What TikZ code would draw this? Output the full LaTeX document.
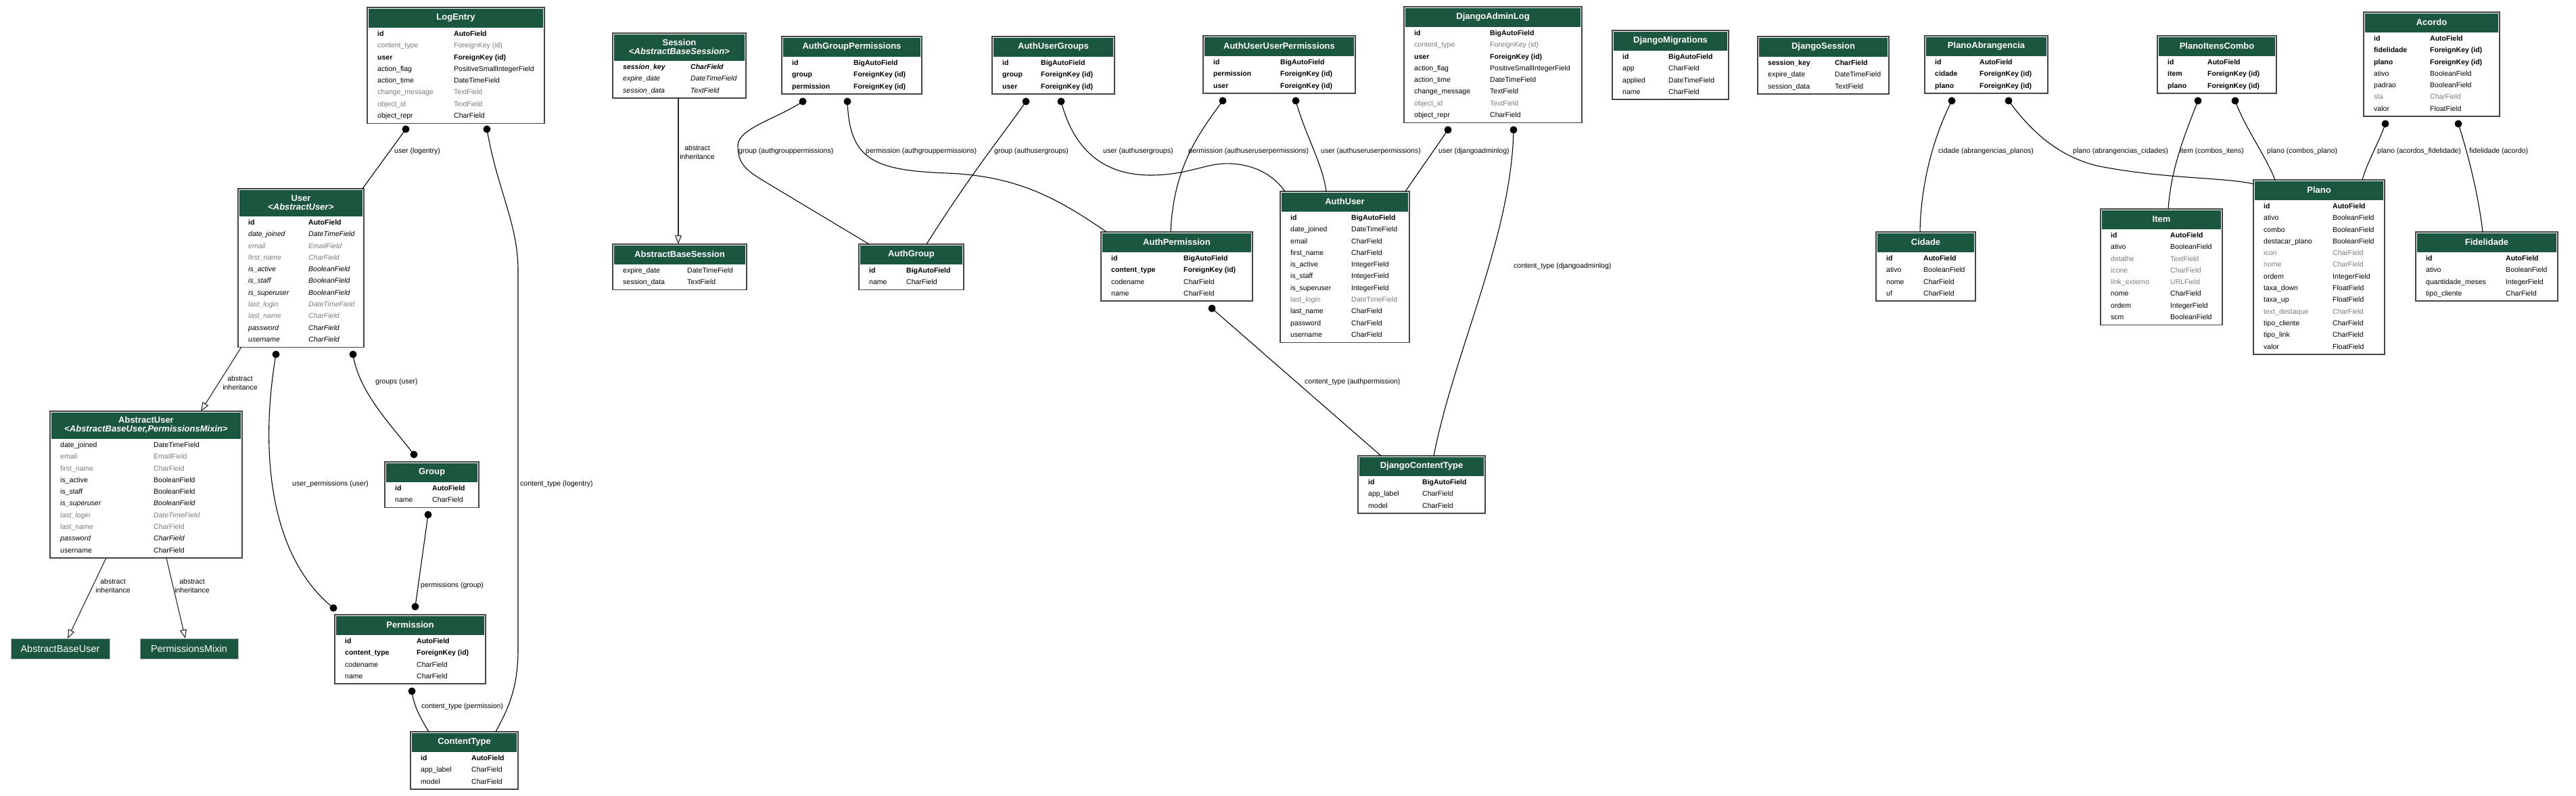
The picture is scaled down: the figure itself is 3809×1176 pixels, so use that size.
\documentclass[tikz,border=0pt]{standalone}
\usepackage{fontspec}
\setmainfont{Liberation Sans}
\usetikzlibrary{arrows.meta}
\definecolor{hdrgreen}{HTML}{1B563F}
\definecolor{fgray}{HTML}{7B7B7B}
\definecolor{bordergray}{HTML}{454545}
\newcommand\fmtn[1]{#1}
\newcommand\fmtb[1]{\bfseries #1}
\newcommand\fmtg[1]{\color{fgray}#1}
\newcommand\fmti[1]{\itshape #1}
\newcommand\fmtgi[1]{\color{fgray}\itshape #1}
\newcommand\fmtbi[1]{\bfseries\itshape #1}
\tikzset{
  tblbox/.style={rectangle, draw=bordergray, line width=1.6pt, fill=white, inner sep=0pt, outer sep=0pt},
  hdrtxt/.style={text=white, font=\fontsize{13}{13.5}\selectfont\bfseries, inner sep=0pt, align=center},
  fld/.style={inner sep=0pt, anchor=base west, font=\fontsize{10.5}{12}\selectfont},
  rel/.style={line width=1.1pt, draw=black},
  inh/.style={line width=1.1pt, draw=black!85, -{Triangle[open,length=13pt,width=10pt]}},
  enddot/.style={circle, fill=black, inner sep=0pt, minimum size=11pt},
  elab/.style={inner sep=0pt, anchor=west, font=\fontsize{10.5}{12}\selectfont},
  ilab/.style={inner sep=0pt, align=center, font=\fontsize{10.5}{13}\selectfont},
  basebox/.style={rectangle, fill=hdrgreen, draw=black!30, line width=0.6pt, inner sep=0pt, outer sep=0pt, text=white, font=\fontsize{14.5}{15}\selectfont, minimum height=30pt, anchor=north west},
}
% name, x, y, width, header height, rows, type offset, header, rows
\newcommand\dbtable[9]{%
  \pgfmathsetmacro\tblH{#5+#6*17.3+3}%
  \node[tblbox, minimum width=#4pt, minimum height=\tblH pt, anchor=north west] (#1) at (#2,#3) {};
  \fill[hdrgreen] ([shift={(1.6,1.6)}]#1.north west) rectangle ([shift={(-1.6,#5)}]#1.north east);
  \node[hdrtxt] (#1-hdr) at ([shift={(0,#5/2)}]#1.north) {#8};
  \foreach \st/\fname/\ftype [count=\k from 0] in {#9} {
    \pgfmathsetmacro\rowy{#5+8.65+\k*17.3+3.8}
    \node[fld] (#1-n\k) at ([shift={(15,\rowy)}]#1.north west) {\csname fmt\st\endcsname{\fname}};
    \node[fld] (#1-t\k) at ([shift={(#7,\rowy)}]#1.north west) {\csname fmt\st\endcsname{\ftype}};
  }
}
\begin{document}
\begin{tikzpicture}[x=1pt,y=-1pt]
\useasboundingbox (0,0) rectangle (3809,1176);
\fill[white] (0,0) rectangle (3809,1176);

% ---------------- tables ----------------
\dbtable{LogEntry}{543}{11}{262}{30}{8}{128}{LogEntry}{b/id/AutoField, g/content\_type/ForeignKey (id), b/user/ForeignKey (id), n/action\_flag/PositiveSmallIntegerField, n/action\_time/DateTimeField, g/change\_message/TextField, g/object\_id/TextField, n/object\_repr/CharField}
\dbtable{User}{352}{279}{186}{41}{11}{104}{User\\<\textit{AbstractUser}>}{b/id/AutoField, i/date\_joined/DateTimeField, gi/email/EmailField, gi/first\_name/CharField, i/is\_active/BooleanField, i/is\_staff/BooleanField, i/is\_superuser/BooleanField, gi/last\_login/DateTimeField, gi/last\_name/CharField, i/password/CharField, i/username/CharField}
\dbtable{AbstractUser}{74}{608}{284}{41}{10}{153}{AbstractUser\\<\textit{AbstractBaseUser,PermissionsMixin}>}{n/date\_joined/DateTimeField, g/email/EmailField, g/first\_name/CharField, n/is\_active/BooleanField, n/is\_staff/BooleanField, i/is\_superuser/BooleanField, gi/last\_login/DateTimeField, g/last\_name/CharField, i/password/CharField, n/username/CharField}
\dbtable{Group}{569}{683}{139}{30}{2}{70}{Group}{b/id/AutoField, n/name/CharField}
\dbtable{Permission}{495}{909}{223}{30}{4}{121}{Permission}{b/id/AutoField, b/content\_type/ForeignKey (id), n/codename/CharField, n/name/CharField}
\dbtable{ContentType}{607}{1082}{159}{30}{3}{90}{ContentType}{b/id/AutoField, n/app\_label/CharField, n/model/CharField}
\dbtable{Session}{906}{49}{197}{41}{3}{115}{Session\\<\textit{AbstractBaseSession}>}{bi/session\_key/CharField, i/expire\_date/DateTimeField, i/session\_data/TextField}
\dbtable{AbstractBaseSession}{906}{361}{198}{30}{2}{110}{AbstractBaseSession}{n/expire\_date/DateTimeField, n/session\_data/TextField}
\dbtable{AuthGroupPermissions}{1156}{54}{207}{30}{3}{106}{AuthGroupPermissions}{b/id/BigAutoField, b/group/ForeignKey (id), b/permission/ForeignKey (id)}
\dbtable{AuthUserGroups}{1467}{54}{181}{30}{3}{72}{AuthUserGroups}{b/id/BigAutoField, b/group/ForeignKey (id), b/user/ForeignKey (id)}
\dbtable{AuthUserUserPermissions}{1779}{53}{225}{30}{3}{114}{AuthUserUserPermissions}{b/id/BigAutoField, b/permission/ForeignKey (id), b/user/ForeignKey (id)}
\dbtable{DjangoAdminLog}{2076}{10}{263}{30}{8}{127}{DjangoAdminLog}{b/id/BigAutoField, g/content\_type/ForeignKey (id), b/user/ForeignKey (id), n/action\_flag/PositiveSmallIntegerField, n/action\_time/DateTimeField, n/change\_message/TextField, g/object\_id/TextField, n/object\_repr/CharField}
\dbtable{DjangoMigrations}{2384}{45}{172}{30}{4}{83}{DjangoMigrations}{b/id/BigAutoField, n/app/CharField, n/applied/DateTimeField, n/name/CharField}
\dbtable{DjangoSession}{2599}{54}{194}{30}{3}{114}{DjangoSession}{b/session\_key/CharField, n/expire\_date/DateTimeField, n/session\_data/TextField}
\dbtable{AuthGroup}{1270}{361}{155}{30}{2}{70}{AuthGroup}{b/id/BigAutoField, n/name/CharField}
\dbtable{AuthPermission}{1628}{343}{224}{30}{4}{122}{AuthPermission}{b/id/BigAutoField, b/content\_type/ForeignKey (id), n/codename/CharField, n/name/CharField}
\dbtable{AuthUser}{1893}{283}{191}{30}{11}{105}{AuthUser}{b/id/BigAutoField, n/date\_joined/DateTimeField, n/email/CharField, n/first\_name/CharField, n/is\_active/IntegerField, n/is\_staff/IntegerField, n/is\_superuser/IntegerField, g/last\_login/DateTimeField, n/last\_name/CharField, n/password/CharField, n/username/CharField}
\dbtable{DjangoContentType}{2008}{674}{188}{30}{3}{95}{DjangoContentType}{b/id/BigAutoField, n/app\_label/CharField, n/model/CharField}
\dbtable{PlanoAbrangencia}{2846}{53}{182}{30}{3}{81}{PlanoAbrangencia}{b/id/AutoField, b/cidade/ForeignKey (id), b/plano/ForeignKey (id)}
\dbtable{PlanoItensCombo}{3190}{53}{176}{30}{3}{74}{PlanoItensCombo}{b/id/AutoField, b/item/ForeignKey (id), b/plano/ForeignKey (id)}
\dbtable{Acordo}{3495}{18}{201}{30}{7}{98}{Acordo}{b/id/AutoField, b/fidelidade/ForeignKey (id), b/plano/ForeignKey (id), n/ativo/BooleanField, n/padrao/BooleanField, g/sla/CharField, n/valor/FloatField}
\dbtable{Cidade}{2774}{343}{147}{30}{4}{70}{Cidade}{b/id/AutoField, n/ativo/BooleanField, n/nome/CharField, n/uf/CharField}
\dbtable{Item}{3106}{309}{180}{30}{8}{103}{Item}{b/id/AutoField, n/ativo/BooleanField, g/detalhe/TextField, g/icone/CharField, g/link\_externo/URLField, n/nome/CharField, n/ordem/IntegerField, n/scm/BooleanField}
\dbtable{Plano}{3332}{266}{194}{30}{13}{117}{Plano}{b/id/AutoField, n/ativo/BooleanField, n/combo/BooleanField, n/destacar\_plano/BooleanField, g/icon/CharField, g/nome/CharField, n/ordem/IntegerField, n/taxa\_down/FloatField, n/taxa\_up/FloatField, g/text\_destaque/CharField, n/tipo\_cliente/CharField, n/tipo\_link/CharField, n/valor/FloatField}
\dbtable{Fidelidade}{3572}{343}{210}{30}{4}{133}{Fidelidade}{b/id/AutoField, n/ativo/BooleanField, n/quantidade\_meses/IntegerField, n/tipo\_cliente/CharField}

\node[basebox, minimum width=146pt] (AbstractBaseUser) at (16,944) {AbstractBaseUser};
\node[basebox, minimum width=145pt] (PermissionsMixin) at (207,944) {PermissionsMixin};

% ---------------- inheritance ----------------
\draw[inh] ([shift={(5,234)}]User.north west) -- ([shift={(223,0)}]AbstractUser.north west);
\node[ilab] (l7) at (355,566) {abstract\\inheritance};
\draw[inh] ([shift={(83,217)}]AbstractUser.north west) -- ([shift={(84,0)}]AbstractBaseUser.north west);
\node[ilab] (l8) at (167,866) {abstract\\inheritance};
\draw[inh] ([shift={(172,217)}]AbstractUser.north west) -- ([shift={(67,0)}]PermissionsMixin.north west);
\node[ilab] (l9) at (284,866) {abstract\\inheritance};
\draw[inh] ([shift={(97,96)}]Session.north west) -- ([shift={(97,0)}]AbstractBaseSession.north west);
\node[ilab] (l10) at (1031,225) {abstract\\inheritance};

% ---------------- relations (left) ----------------
\node[enddot] (d1) at (600,191) {};
\draw[rel] (d1.center) -- ([shift={(184,0)}]User.north west);
\node[elab] (l1) at (583,224) {user (logentry)};

\node[enddot] (d2) at (720,191) {};
\draw[rel] (d2.center) .. controls (735,280) and (766,330) .. (766,400) -- (766,960) .. controls (766,1020) and (750,1050) .. ([shift={(126,0)}]ContentType.north west);
\node[elab] (l2) at (769,716) {content\_type (logentry)};

\node[enddot] (d3a) at (522,524) {};
\node[enddot] (d3b) at (612,672) {};
\draw[rel] (d3a.center) .. controls (530,580) and (580,630) .. (d3b.center);
\node[elab] (l3) at (555,565) {groups (user)};

\node[enddot] (d4a) at (408,524) {};
\node[enddot] (d4b) at (493,899) {};
\draw[rel] (d4a.center) .. controls (385,660) and (395,820) .. (d4b.center);
\node[elab] (l4) at (432,716) {user\_permissions (user)};

\node[enddot] (d5a) at (633,761) {};
\node[enddot] (d5b) at (614,897) {};
\draw[rel] (d5a.center) -- (d5b.center);
\node[elab] (l5) at (622,866) {permissions (group)};

\node[enddot] (d6) at (609,1022) {};
\draw[rel] (d6.center) .. controls (612,1045) and (622,1062) .. ([shift={(27,0)}]ContentType.north west);
\node[elab] (l6) at (623,1045) {content\_type (permission)};

% ---------------- relations (middle) ----------------
\node[enddot] (d11) at (1187,150) {};
\draw[rel] (d11.center) .. controls (1150,175) and (1091,190) .. (1091,215) .. controls (1091,240) and (1100,250) .. (1130,268) -- ([shift={(15,0)}]AuthGroup.north west);
\node[elab] (l11) at (1092,224) {group (authgrouppermissions)};

\node[enddot] (d12) at (1253,150) {};
\draw[rel] (d12.center) .. controls (1256,235) and (1290,252) .. (1400,256) .. controls (1500,260) and (1560,290) .. ([shift={(8,0)}]AuthPermission.north west);
\node[elab] (l12) at (1280,224) {permission (authgrouppermissions)};

\node[enddot] (d13) at (1517,150) {};
\draw[rel] (d13.center) .. controls (1490,190) and (1440,250) .. ([shift={(100,0)}]AuthGroup.north west);
\node[elab] (l13) at (1470,224) {group (authusergroups)};

\node[enddot] (d14) at (1569,150) {};
\draw[rel] (d14.center) .. controls (1590,230) and (1640,260) .. (1705,259) .. controls (1760,258) and (1785,240) .. (1820,242) .. controls (1860,244) and (1885,262) .. ([shift={(7,0)}]AuthUser.north west);
\node[elab] (l14) at (1631,224) {user (authusergroups)};

\node[enddot] (d15) at (1808,149) {};
\draw[rel] (d15.center) .. controls (1770,200) and (1735,250) .. ([shift={(103,0)}]AuthPermission.north west);
\node[elab] (l15) at (1757,224) {permission (authuseruserpermissions)};

\node[enddot] (d16) at (1916,149) {};
\draw[rel] (d16.center) .. controls (1930,200) and (1955,240) .. ([shift={(68,0)}]AuthUser.north west);
\node[elab] (l16) at (1953,224) {user (authuseruserpermissions)};

\node[enddot] (d17) at (2141,192) {};
\draw[rel] (d17.center) -- ([shift={(185,0)}]AuthUser.north west);
\node[elab] (l17) at (2127,224) {user (djangoadminlog)};

\node[enddot] (d18) at (2238,192) {};
\draw[rel] (d18.center) .. controls (2235,350) and (2150,520) .. ([shift={(112,0)}]DjangoContentType.north west);
\node[elab] (l18) at (2238,394) {content\_type (djangoadminlog)};

\node[enddot] (d19) at (1792,456) {};
\draw[rel] (d19.center) -- ([shift={(34,0)}]DjangoContentType.north west);
\node[elab] (l19) at (1929,565) {content\_type (authpermission)};

% ---------------- relations (right) ----------------
\node[enddot] (d20) at (2886,149) {};
\draw[rel] (d20.center) .. controls (2860,200) and (2840,270) .. ([shift={(65,0)}]Cidade.north west);
\node[elab] (l20) at (2866,224) {cidade (abrangencias\_planos)};

\node[enddot] (d21) at (2970,149) {};
\draw[rel] (d21.center) .. controls (3000,190) and (3040,230) .. (3100,245) .. controls (3200,265) and (3290,262) .. ([shift={(0,6)}]Plano.north west);
\node[elab] (l21) at (3065,224) {plano (abrangencias\_cidades)};

\node[enddot] (d22) at (3250,149) {};
\draw[rel] (d22.center) .. controls (3230,200) and (3210,250) .. ([shift={(100,0)}]Item.north west);
\node[elab] (l22) at (3223,224) {item (combos\_itens)};

\node[enddot] (d23) at (3305,149) {};
\draw[rel] (d23.center) .. controls (3320,190) and (3350,230) .. ([shift={(32,0)}]Plano.north west);
\node[elab] (l23) at (3352,224) {plano (combos\_plano)};

\node[enddot] (d24) at (3527,183) {};
\draw[rel] (d24.center) .. controls (3518,210) and (3500,240) .. ([shift={(161,0)}]Plano.north west);
\node[elab] (l24) at (3515,224) {plano (acordos\_fidelidade)};

\node[enddot] (d25) at (3635,183) {};
\draw[rel] (d25.center) .. controls (3650,230) and (3665,290) .. ([shift={(99,0)}]Fidelidade.north west);
\node[elab] (l25) at (3651,224) {fidelidade (acordo)};
\end{tikzpicture}
\end{document}
